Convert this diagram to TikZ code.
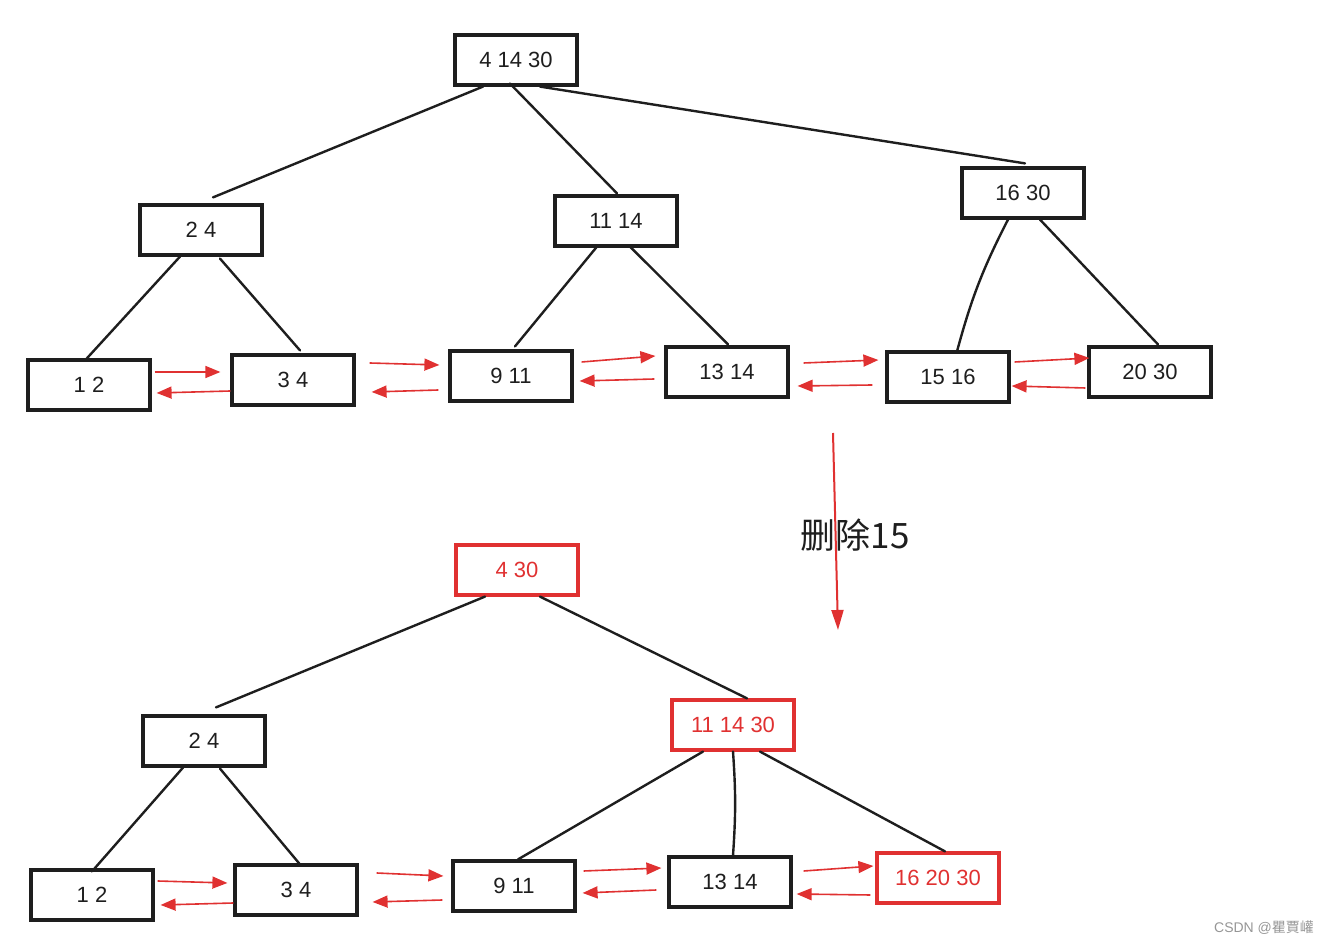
\documentclass[tikz,border=0pt]{standalone}
\usepackage{fontspec}
\setmainfont{Liberation Sans}
\newfontfamily\cjkfont{Noto Sans CJK SC}
\usetikzlibrary{
    arrows.meta,
    calc
}
\definecolor{sketchink}{RGB}{30,30,30}
\definecolor{sketchred}{RGB}{224,49,49}
\definecolor{markgray}{RGB}{150,150,150}

\begin{document}
\begin{tikzpicture}[
    x=0.5pt,
    y=-0.5pt,
    boxbase/.style={
        line width=1.6pt,
        minimum width=61pt,
        minimum height=25pt,
        inner sep=2pt,
        font=\fontsize{11}{13}\selectfont
    },
    keybox/.style={
        boxbase,
        draw=sketchink,
        text=sketchink,
        postaction={draw=sketchink, line width=0.5pt,
            transform canvas={shift={(0.9pt,-0.8pt)}}}
    },
    changedbox/.style={
        boxbase,
        draw=sketchred,
        text=sketchred,
        postaction={draw=sketchred, line width=0.5pt,
            transform canvas={shift={(0.9pt,-0.8pt)}}}
    },
    treeedge/.style={
        draw=sketchink,
        line width=1.2pt,
        line cap=round
    },
    linkarrow/.style={
        draw=sketchred,
        line width=0.8pt,
        -{Triangle[length=7.5pt,width=6pt]}
    },
    deletearrow/.style={
        draw=sketchred,
        line width=1pt,
        -{Triangle[length=10pt,width=6pt]}
    }
]
\useasboundingbox (0,0) rectangle (1334,945);

% before deleting
\node[keybox] (r) at (516,60) {4 14 30};
\node[keybox] (a24) at (201,230) {2 4};
\node[keybox] (a1114) at (616,221) {11 14};
\node[keybox] (a1630) at (1023,193) {16 30};

\node[keybox] (l12) at (89,385) {1 2};
\node[keybox] (l34) at (293,380) {3 4};
\node[keybox] (l911) at (511,376) {9 11};
\node[keybox] (l1314) at (727,372) {13 14};
\node[keybox] (l1516) at (948,377) {15 16};
\node[keybox] (l2030) at (1150,372) {20 30};

\draw[treeedge] ($(r.south)+(-33,0)$) -- ($(a24.north)+(12,-6)$);
\draw[treeedge] ($(r.south)+(-6,-3)$) -- ($(a1114.north)+(1,-1)$);
\draw[treeedge] ($(r.south)+(24,0)$) -- ($(a1630.north)+(2,-3)$);
\draw[treeedge] ($(a24.south)+(-21,0)$) -- ($(l12.north)+(-4,2)$);
\draw[treeedge] ($(a24.south)+(19,2)$) -- ($(l34.north)+(7,-3)$);
\draw[treeedge] ($(a1114.south)+(-19,-1)$) -- ($(l911.north)+(4,-3)$);
\draw[treeedge] ($(a1114.south)+(14,-1)$) -- ($(l1314.north)+(1,-1)$);
\draw[treeedge] ($(a1630.south)+(-15,0)$) to[bend right=6] ($(l1516.north)+(9,1)$);
\draw[treeedge] ($(a1630.south)+(17,0)$) -- ($(l2030.north)+(8,-1)$);

\draw[linkarrow] ($(l12.east)+(3,-13)$) -- ($(l34.west)+(-10,-8)$);
\draw[linkarrow] ($(l34.west)+(0,11)$) -- ($(l12.east)+(5,8)$);
\draw[linkarrow] ($(l34.east)+(14,-17)$) -- ($(l911.west)+(-9,-11)$);
\draw[linkarrow] ($(l911.west)+(-10,14)$) -- ($(l34.east)+(16,12)$);
\draw[linkarrow] ($(l911.east)+(8,-14)$) -- ($(l1314.west)+(-9,-16)$);
\draw[linkarrow] ($(l1314.west)+(-10,7)$) -- ($(l911.east)+(6,5)$);
\draw[linkarrow] ($(l1314.east)+(14,-9)$) -- ($(l1516.west)+(-7,-17)$);
\draw[linkarrow] ($(l1516.west)+(-13,8)$) -- ($(l1314.east)+(8,14)$);
\draw[linkarrow] ($(l1516.east)+(4,-15)$) -- ($(l2030.west)+(2,-14)$);
\draw[linkarrow] ($(l2030.west)+(-2,16)$) -- ($(l1516.east)+(1,9)$);

% delete step
\coordinate (dtop) at (833,433);
\coordinate (dbot) at (838,630);
\node[font=\cjkfont\fontsize{17.5}{20}\selectfont, text=sketchink] (del) at (855,535) {删除15};
\draw[deletearrow] (dtop) -- (dbot);

% after deleting
\node[changedbox] (R) at (517,570) {4 30};
\node[keybox] (b24) at (204,741) {2 4};
\node[changedbox] (b111430) at (733,725) {11 14 30};

\node[keybox] (m12) at (92,895) {1 2};
\node[keybox] (m34) at (296,890) {3 4};
\node[keybox] (m911) at (514,886) {9 11};
\node[keybox] (m1314) at (730,882) {13 14};
\node[changedbox] (m162030) at (938,878) {16 20 30};

\draw[treeedge] ($(R.south)+(-32,0)$) -- ($(b24.north)+(12,-7)$);
\draw[treeedge] ($(R.south)+(23,0)$) -- ($(b111430.north)+(14,0)$);
\draw[treeedge] ($(b24.south)+(-21,0)$) -- ($(m12.north)+(0,3)$);
\draw[treeedge] ($(b24.south)+(16,1)$) -- ($(m34.north)+(4,1)$);
\draw[treeedge] ($(b111430.south)+(-30,0)$) -- ($(m911.north)+(4,0)$);
\draw[treeedge] ($(b111430.south)+(0,0)$) to[bend left=4] ($(m1314.north)+(3,0)$);
\draw[treeedge] ($(b111430.south)+(27,0)$) -- ($(m162030.north)+(7,0)$);

\draw[linkarrow] ($(m12.east)+(3,-14)$) -- ($(m34.west)+(-6,-7)$);
\draw[linkarrow] ($(m34.west)+(0,13)$) -- ($(m12.east)+(6,10)$);
\draw[linkarrow] ($(m34.east)+(18,-17)$) -- ($(m911.west)+(-8,-10)$);
\draw[linkarrow] ($(m911.west)+(-9,14)$) -- ($(m34.east)+(14,12)$);
\draw[linkarrow] ($(m911.east)+(7,-15)$) -- ($(m1314.west)+(-6,-14)$);
\draw[linkarrow] ($(m1314.west)+(-11,8)$) -- ($(m911.east)+(6,7)$);
\draw[linkarrow] ($(m1314.east)+(11,-11)$) -- ($(m162030.west)+(-2,-12)$);
\draw[linkarrow] ($(m162030.west)+(-5,17)$) -- ($(m1314.east)+(4,12)$);

\node[font=\fontsize{7}{8}\selectfont, text=markgray, anchor=east] (mark) at (1321,928) {CSDN @{\cjkfont 瞿賈巏}};

\end{tikzpicture}
\end{document}
